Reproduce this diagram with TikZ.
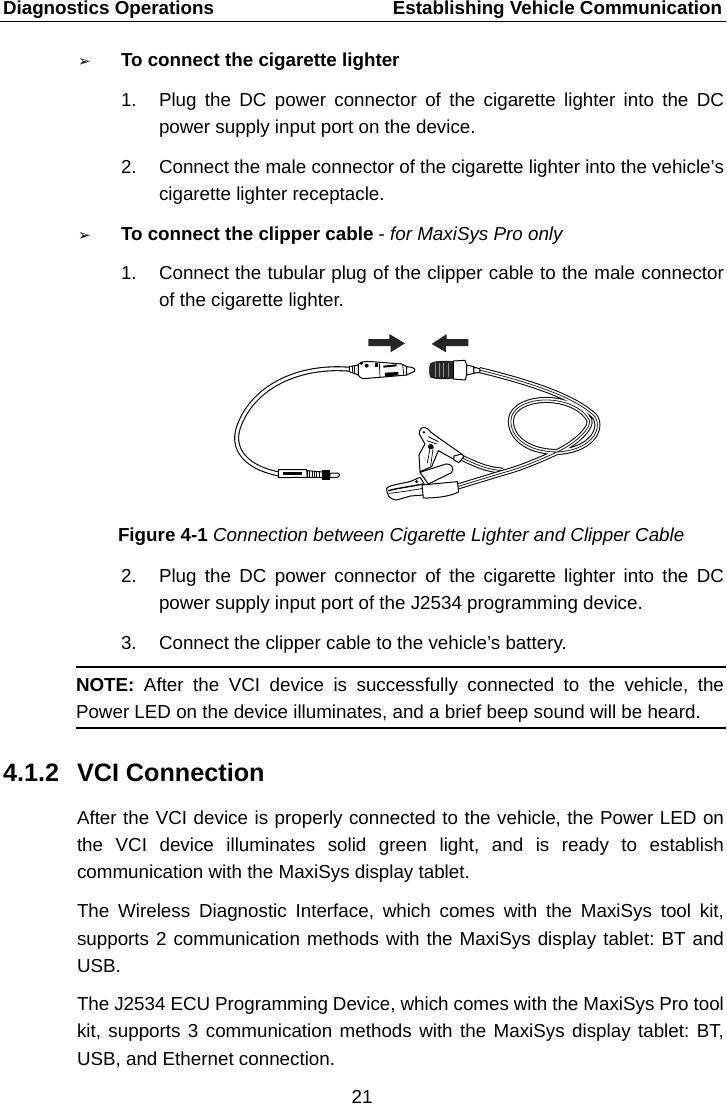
\documentclass[tikz,border=0pt]{standalone}
\usepackage{fontspec}
\setmainfont{Liberation Sans}
\newfontfamily\dejavu{DejaVu Sans}
\newcommand{\bodysize}{\fontsize{18.8}{21}\selectfont\frenchspacing}
\tikzset{
  pagetext/.style={anchor=base west,inner sep=0pt,outer sep=0pt,font=\bodysize,text=black},
  pagerule/.style={line width=1.9pt,black},
  hookup/.style={line width=1pt,black,fill=white,line join=round},
  darkfill/.style={fill=black!85,draw=black,line join=round},
  thin detail/.style={line width=0.7pt,black},
}
% name, x, baseline y, width, text: a justified line
\newcommand{\jline}[5]{\node[pagetext] (#1) at (#2,#3) {\makebox[#4pt][s]{#5}};}
% name, x, baseline y, text: a free line
\newcommand{\fline}[4]{\node[pagetext] (#1) at (#2,#3) {#4};}
% wire drawn as outline and white core
\newcommand{\wire}[2][5pt]{\draw[line width=#1,black,line cap=round] #2; \draw[line width=#1-2.2pt,white,line cap=round] #2;}
\newcommand{\ribbon}[1]{\draw[line width=6pt,black] #1; \draw[line width=4pt,white] #1; \draw[line width=0.8pt,black!85] #1;}
\begin{document}
\begin{tikzpicture}[x=1pt,y=-1pt]
\useasboundingbox (0,0) rectangle (726,1105);
% header
\node[pagetext,font=\fontsize{18.8}{21}\selectfont\bfseries] (hl) at (3,14.3) {Diagnostics Operations};
\node[pagetext,anchor=base east,font=\fontsize{18.8}{21}\selectfont\bfseries] (hr) at (722,14.3) {Establishing Vehicle Communication};
\draw[line width=1pt] (0,22) -- (726,22);
% bullets
\node[pagetext,font=\dejavu\fontsize{15}{16}\selectfont] (b1) at (78,67) {➢};
\node[pagetext,font=\dejavu\fontsize{15}{16}\selectfont] (b2) at (78,240.5) {➢};
% text
\fline{t1}{121}{66.7}{\textbf{To connect the cigarette lighter}}
\fline{n1}{121}{106.7}{1.}
\jline{t2}{159}{106.7}{565}{Plug the DC power connector of the cigarette lighter into the DC}
\fline{t3}{159}{133.3}{power supply input port on the device.}
\fline{n2}{121}{173.3}{2.}
\jline{t4}{159}{173.3}{565}{Connect the male connector of the cigarette lighter into the vehicle’s}
\fline{t5}{159}{200}{cigarette lighter receptacle.}
\fline{t6}{121}{240}{\textbf{To connect the clipper cable} - \textit{for MaxiSys Pro only}}
\fline{n3}{121}{279.3}{1.}
\jline{t7}{159}{279.3}{565}{Connect the tubular plug of the clipper cable to the male connector}
\fline{t8}{159}{306}{of the cigarette lighter.}
\fline{cap}{118}{541.7}{\textbf{Figure 4-1} \textit{Connection between Cigarette Lighter and Clipper Cable}}
\fline{n4}{121}{582.3}{2.}
\jline{t9}{159}{582.3}{565}{Plug the DC power connector of the cigarette lighter into the DC}
\fline{t10}{159}{609}{power supply input port of the J2534 programming device.}
\fline{n5}{121}{649}{3.}
\fline{t11}{159}{649}{Connect the clipper cable to the vehicle’s battery.}
\draw[pagerule] (76,667.3) -- (726,667.3);
\jline{t12}{76}{691.7}{648}{\textbf{NOTE:} After the VCI device is successfully connected to the vehicle, the}
\fline{t13}{76}{718.3}{Power LED on the device illuminates, and a brief beep sound will be heard.}
\draw[pagerule] (76,727.8) -- (726,727.8);
\node[pagetext,font=\fontsize{25.2}{28}\selectfont\bfseries] (h1) at (3,781.7) {4.1.2};
\node[pagetext,font=\fontsize{25.2}{28}\selectfont\bfseries] (h2) at (77,781.7) {VCI Connection};
\jline{t14}{77}{824.3}{647}{After the VCI device is properly connected to the vehicle, the Power LED on}
\jline{t15}{77}{851}{647}{the VCI device illuminates solid green light, and is ready to establish}
\fline{t16}{77}{878.3}{communication with the MaxiSys display tablet.}
\jline{t17}{77}{917.7}{647}{The Wireless Diagnostic Interface, which comes with the MaxiSys tool kit,}
\jline{t18}{77}{945}{647}{supports 2 communication methods with the MaxiSys display tablet: BT and}
\fline{t19}{77}{972}{USB.}
\jline{t20}{77}{1010.7}{647}{The J2534 ECU Programming Device, which comes with the MaxiSys Pro tool}
\jline{t21}{77}{1037.7}{647}{kit, supports 3 communication methods with the MaxiSys display tablet: BT,}
\fline{t22}{77}{1065}{USB, and Ethernet connection.}
\node[pagetext,anchor=base] (pg) at (362,1103.5) {21};
% figure, in thirds of a pixel
\begin{scope}[shift={(220,320)},x=0.3333pt,y=-0.3333pt]
  % arrows
  \fill[black!85] (445,57) -- (508,57) -- (508,42) -- (555,70) -- (512,97) -- (512,78) -- (445,78) -- cycle;
  \fill[black!85] (745,57) -- (680,57) -- (680,42) -- (635,72) -- (678,97) -- (678,78) -- (745,78) -- cycle;
  % left cable
  \wire{(392,148) .. controls (250,135) and (110,190) .. (60,310) .. controls (25,390) and (85,445) .. (178,462)}
  % cigarette plug
  \draw[hookup] (388,140) -- (415,135) -- (415,165) -- (388,155) -- cycle;
  \draw[thin detail] (396,139) -- (396,157) (404,137) -- (404,160);
  \draw[hookup] (415,133) .. controls (425,122) and (440,124) .. (470,126) -- (545,132) -- (560,140) -- (560,165)
     -- (480,172) -- (430,176) .. controls (420,172) and (416,170) .. (415,165) -- cycle;
  \fill[black] (490,137) -- (530,133) -- (530,139) -- (490,143) -- cycle;
  \fill[black] (495,158) -- (535,156) -- (535,166) -- (495,170) -- cycle;
  \draw[thin detail] (478,127) -- (480,172) (548,135) -- (552,168);
  \fill[black] (424,130) circle (5) (440,137) circle (6);
  \fill[black] (465,128) rectangle (473,140);
  \draw[hookup] (560,140) -- (575,142) .. controls (588,145) and (588,155) .. (575,158) -- (560,165) -- cycle;
  % bottom plug
  \draw[hookup] (175,449) -- (260,449) -- (262,472) -- (175,473) -- cycle;
  \fill[black] (190,456) rectangle (245,465);
  \draw[hookup] (262,452) -- (308,456) -- (308,472) -- (262,472) -- cycle;
  \foreach \rx in {270,277,284,291,298}{\draw[line width=1pt] (\rx,453) -- (\rx,472);}
  \draw[hookup,fill=black] (308,453) rectangle (330,480);
  \draw[hookup] (330,460) -- (352,459) .. controls (360,460) and (360,470) .. (352,472) -- (330,473) -- cycle;
  % ribbon cable: upper clamp branch, then the coiled run to the lower clamp
  \ribbon{(850,452) .. controls (800,450) and (760,430) .. (715,408)}
  \ribbon{(778,150) .. controls (900,180) and (1060,225) .. (1125,290) .. controls (1150,330) and (1110,392) .. (1010,396) .. controls (920,395) and (870,350) .. (873,300) .. controls (875,260) and (930,238) .. (985,240) .. controls (1040,242) and (1090,265) .. (1108,300) .. controls (1115,320) and (1080,360) .. (1020,392) .. controls (960,420) and (900,445) .. (850,458) -- (712,500)}
  % socket
  \draw[hookup] (740,135) -- (762,140) -- (762,160) -- (740,165) -- cycle;
  \draw[hookup] (762,142) -- (780,146) -- (780,156) -- (762,160) -- cycle;
  \draw[darkfill] (632,130) .. controls (650,122) and (680,122) .. (700,125) -- (700,175) .. controls (680,178) and (650,178) .. (632,172) .. controls (627,158) and (627,142) .. (632,130) -- cycle;
  \foreach \gx in {645,658,671,684}{\draw[white!55!black,line width=0.4pt] (\gx,130) -- (\gx,170);}
  \draw[hookup] (700,123) -- (735,121) .. controls (742,130) and (742,170) .. (735,180) -- (700,177) -- cycle;
  % clamps: upper handle
  \draw[hookup] (612,322) .. controls (622,322) and (628,330) .. (632,336) -- (665,360) -- (725,402) -- (716,426) -- (655,392) -- (635,440) -- (600,455) -- (597,405) -- (615,372) -- (598,342) .. controls (597,330) and (605,322) .. (612,322) -- cycle;
  \draw[thin detail] (630,385) -- (622,430) (640,380) -- (632,438);
  \fill[black] (612,337) circle (4) (632,380) circle (8);
  \draw[thin detail] (620,362) -- (650,372) (625,350) -- (655,365);
  \draw[hookup] (702,408) -- (725,402) -- (732,410) -- (716,428) -- (702,420) -- cycle;
  % lower clamp
  \draw[hookup] (600,457) -- (678,432) .. controls (695,430) and (703,445) .. (695,458) -- (625,492) -- cycle;
  \draw[hookup] (500,505) .. controls (505,498) and (520,495) .. (570,485) -- (600,472) -- (612,490) -- (612,525) -- (572,528) -- (530,540) .. controls (508,538) and (500,525) .. (500,505) -- cycle;
  \draw[line width=1.4pt] (505,512) .. controls (530,505) and (570,500) .. (610,492);
  \draw[thin detail] (505,520) .. controls (530,518) and (570,512) .. (610,505);
  \fill[black] (590,485) circle (5);
  \draw[hookup] (606,495) -- (712,485) -- (716,516) .. controls (690,530) and (640,535) .. (610,534) -- cycle;
\end{scope}
\end{tikzpicture}
\end{document}
